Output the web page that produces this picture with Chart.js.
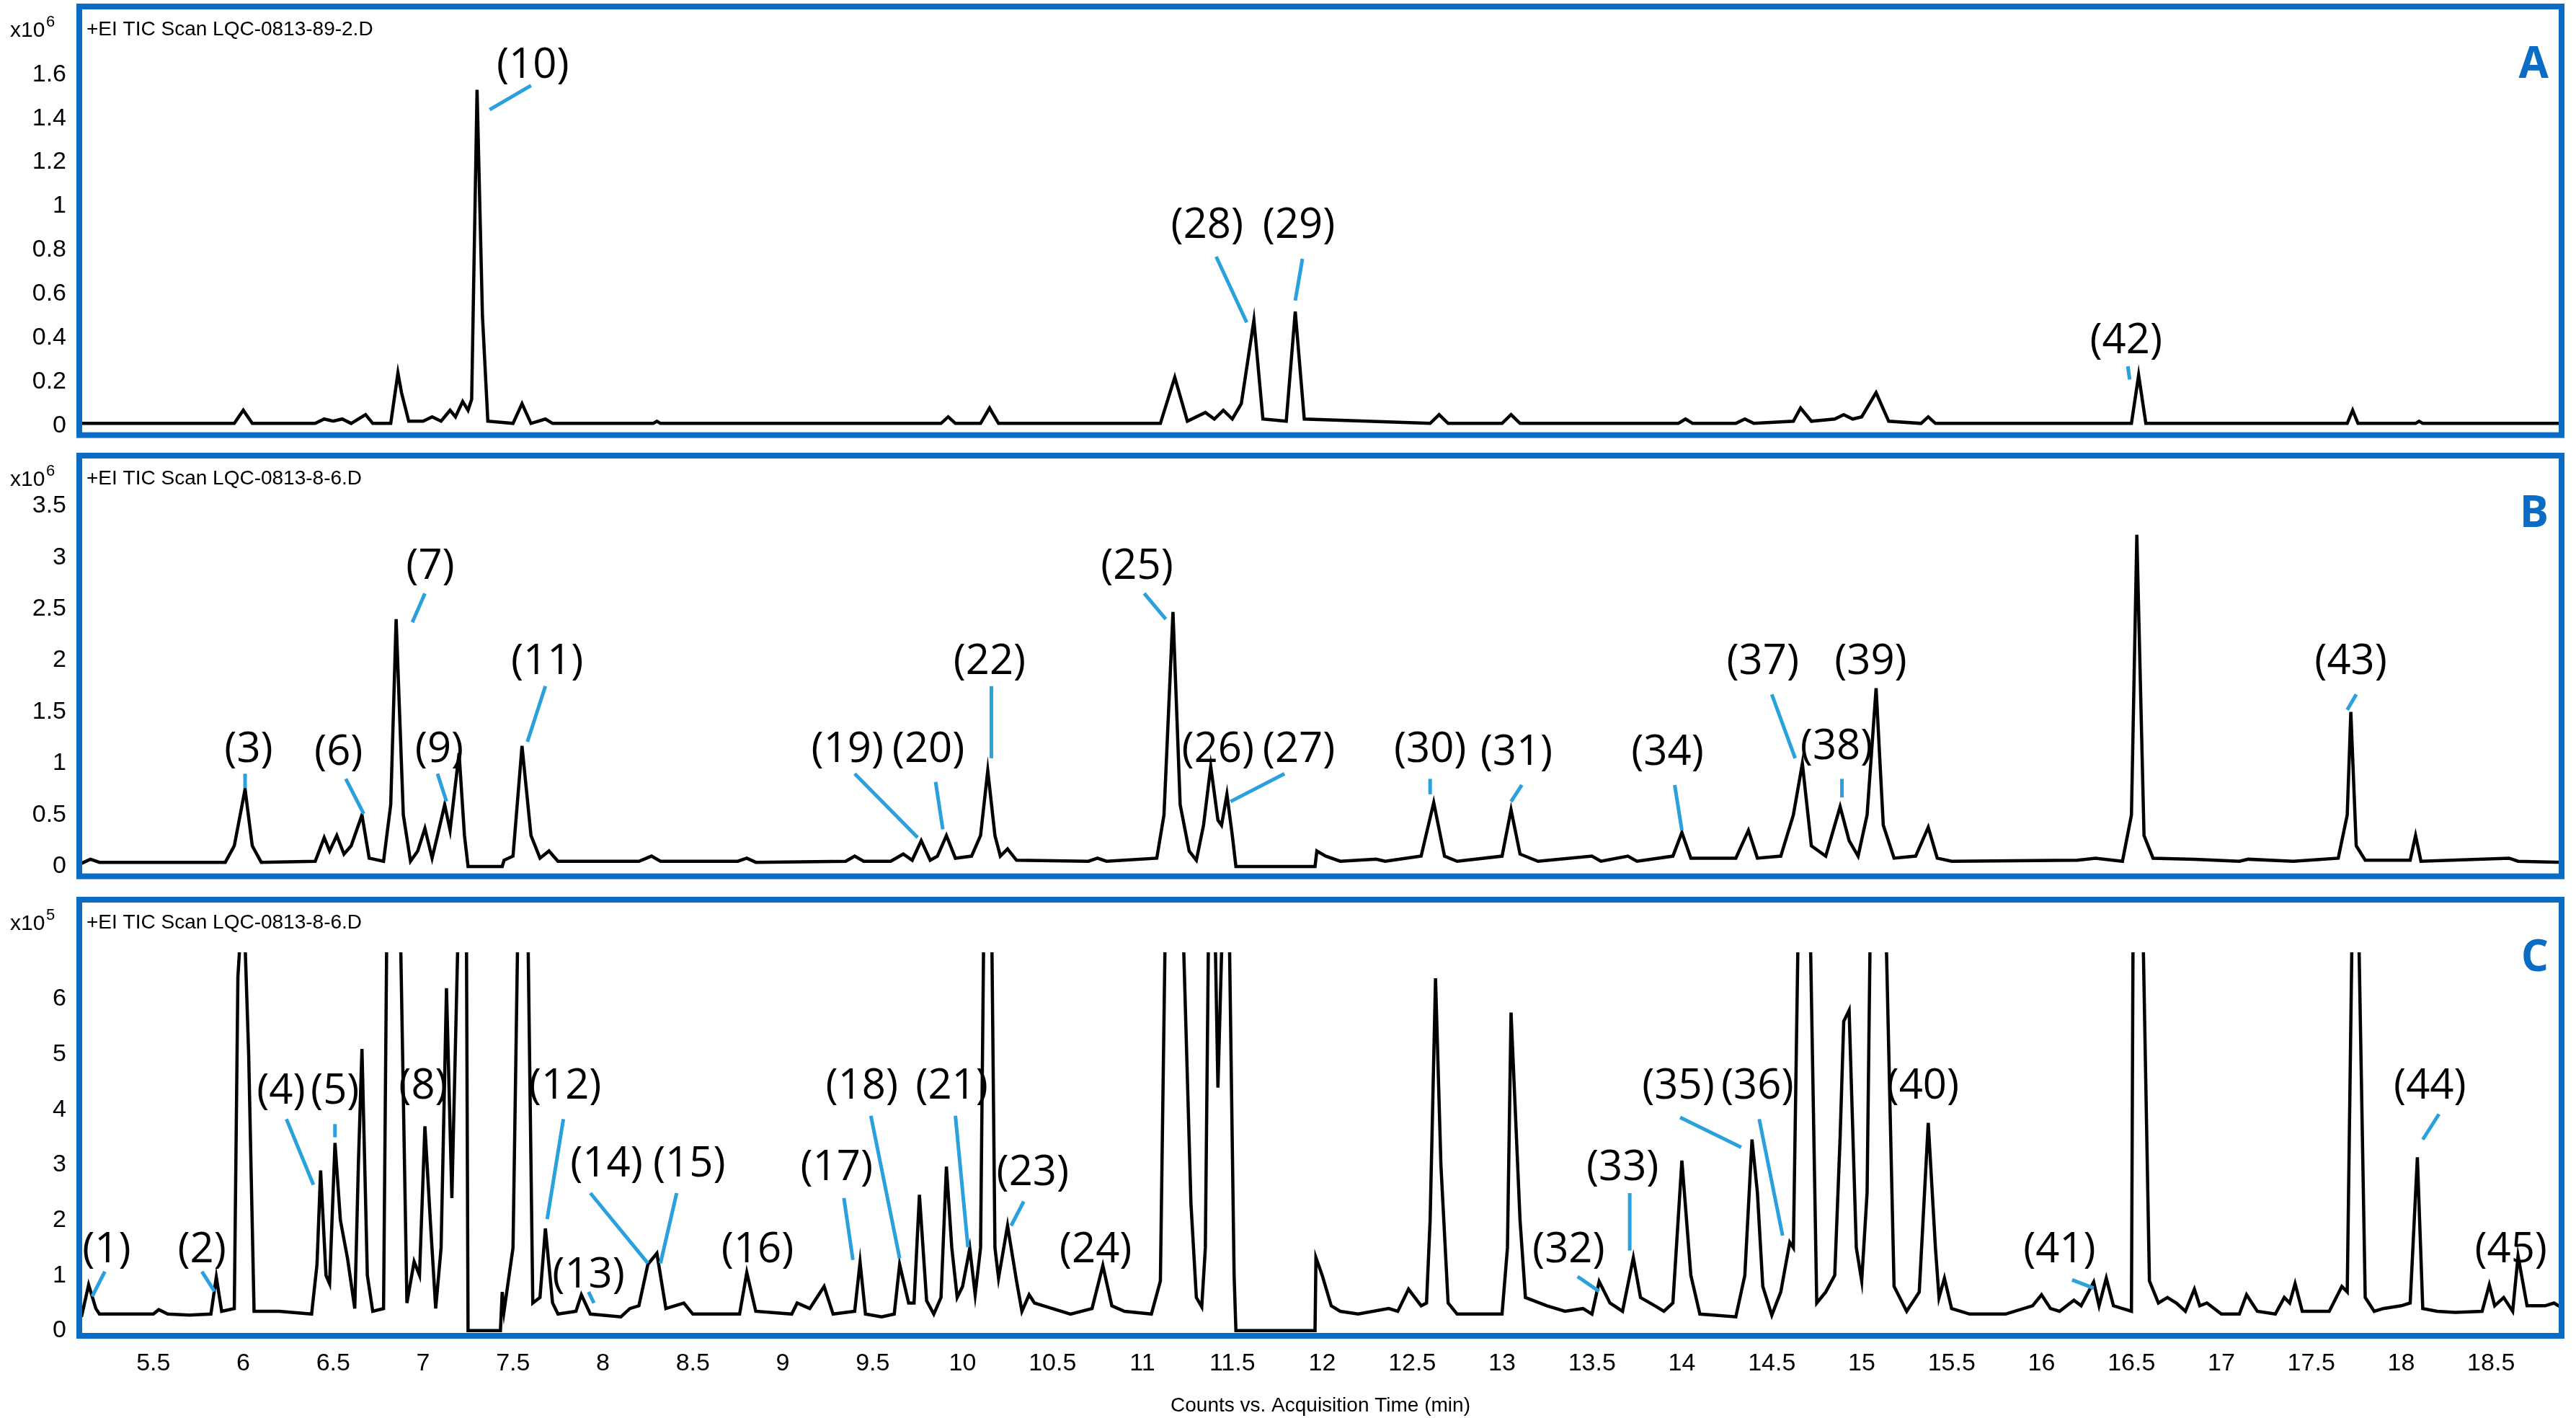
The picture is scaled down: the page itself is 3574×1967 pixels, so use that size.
<!DOCTYPE html>
<html>
<head>
<meta charset="utf-8">
<script src="https://cdn.jsdelivr.net/npm/chart.js@4/dist/chart.umd.min.js"></script>
<style>
body { margin:0; background:#fff; width:3574px; height:1967px; overflow:hidden; position:relative; }
canvas { position:absolute; left:0; }
</style>
</head>
<body>
<canvas id="chartA"></canvas>
<canvas id="chartB"></canvas>
<canvas id="chartC"></canvas>
<script>
// retention time (min) , abundance  -- A in x10^6, B in x10^6, C in x10^5 (8 = off scale)
var traceA = [[5.1,0.01],[5.95,0.01],[6.0,0.07],[6.05,0.01],[6.4,0.01],[6.45,0.03],[6.5,0.02],[6.55,0.03],[6.6,0.01],
  [6.68,0.05],[6.72,0.01],[6.82,0.01],[6.86,0.24],[6.88,0.15],[6.92,0.02],[7.0,0.02],[7.05,0.04],[7.1,0.02],[7.15,0.07],
  [7.18,0.04],[7.22,0.11],[7.25,0.07],[7.27,0.12],[7.3,1.53],[7.33,0.5],[7.36,0.02],[7.5,0.01],[7.55,0.1],[7.6,0.01],
  [7.68,0.03],[7.72,0.01],[8.28,0.01],[8.3,0.02],[8.32,0.01],[9.88,0.01],[9.92,0.04],[9.96,0.01],[10.1,0.01],[10.15,0.08],
  [10.2,0.01],[11.1,0.01],[11.18,0.22],[11.25,0.02],[11.35,0.06],[11.4,0.03],[11.45,0.07],[11.5,0.03],[11.55,0.1],
  [11.62,0.48],[11.67,0.03],[11.8,0.02],[11.85,0.52],[11.9,0.03],[12.6,0.01],[12.65,0.05],[12.7,0.01],[13.0,0.01],
  [13.05,0.05],[13.1,0.01],[13.98,0.01],[14.02,0.03],[14.06,0.01],[14.3,0.01],[14.35,0.03],[14.4,0.01],[14.62,0.02],
  [14.66,0.08],[14.72,0.02],[14.85,0.03],[14.9,0.05],[14.95,0.03],[15.0,0.04],[15.08,0.15],[15.15,0.02],[15.33,0.01],
  [15.37,0.04],[15.41,0.01],[16.5,0.01],[16.54,0.23],[16.58,0.01],[17.7,0.01],[17.73,0.07],[17.76,0.01],[18.08,0.01],
  [18.1,0.02],[18.12,0.01],[18.9,0.01]];

var traceB = [[5.1,0.03],[5.15,0.07],[5.2,0.04],[5.9,0.04],[5.95,0.2],[6.01,0.75],[6.05,0.2],[6.1,0.04],[6.4,0.05],
  [6.45,0.28],[6.48,0.15],[6.52,0.3],[6.56,0.12],[6.6,0.2],[6.66,0.5],[6.7,0.08],[6.78,0.05],[6.82,0.6],[6.85,2.4],
  [6.89,0.5],[6.93,0.05],[6.97,0.15],[7.01,0.37],[7.05,0.08],[7.08,0.3],[7.12,0.6],[7.15,0.35],[7.2,1.1],[7.23,0.3],
  [7.25,0],[7.44,0],[7.45,0.06],[7.5,0.1],[7.55,1.17],[7.6,0.3],[7.65,0.08],[7.7,0.15],[7.75,0.05],[8.2,0.05],[8.27,0.1],
  [8.32,0.05],[8.75,0.05],[8.8,0.08],[8.85,0.04],[9.35,0.05],[9.4,0.1],[9.45,0.05],[9.6,0.05],[9.67,0.12],[9.72,0.06],
  [9.77,0.25],[9.82,0.06],[9.86,0.1],[9.91,0.3],[9.96,0.08],[10.05,0.1],[10.1,0.3],[10.14,0.93],[10.18,0.3],[10.21,0.1],
  [10.25,0.17],[10.3,0.06],[10.7,0.05],[10.75,0.08],[10.8,0.05],[11.08,0.08],[11.12,0.5],[11.17,2.47],[11.21,0.6],
  [11.26,0.15],[11.3,0.06],[11.34,0.4],[11.38,0.97],[11.42,0.45],[11.44,0.4],[11.47,0.7],[11.5,0.3],[11.52,0],[11.96,0],
  [11.97,0.15],[12.02,0.1],[12.1,0.05],[12.3,0.07],[12.35,0.05],[12.55,0.1],[12.62,0.62],[12.68,0.1],[12.75,0.05],
  [13.0,0.1],[13.05,0.55],[13.1,0.12],[13.2,0.05],[13.5,0.1],[13.55,0.05],[13.7,0.1],[13.75,0.05],[13.95,0.1],[14.0,0.33],
  [14.05,0.08],[14.3,0.08],[14.37,0.35],[14.42,0.08],[14.55,0.1],[14.62,0.5],[14.67,1.0],[14.72,0.2],[14.8,0.1],
  [14.88,0.58],[14.93,0.25],[14.98,0.1],[15.03,0.5],[15.08,1.73],[15.12,0.4],[15.18,0.08],[15.3,0.1],[15.37,0.38],
  [15.42,0.08],[15.5,0.05],[16.2,0.06],[16.3,0.08],[16.45,0.05],[16.5,0.5],[16.53,3.22],[16.57,0.3],[16.62,0.08],
  [16.85,0.07],[17.1,0.05],[17.15,0.07],[17.4,0.05],[17.65,0.08],[17.7,0.5],[17.72,1.5],[17.75,0.2],[17.8,0.06],
  [18.05,0.06],[18.08,0.3],[18.11,0.05],[18.6,0.08],[18.65,0.05],[18.9,0.04]];

var traceC = [[5.1,0.25],[5.14,0.83],[5.18,0.4],[5.2,0.3],[5.5,0.3],[5.53,0.38],[5.58,0.3],[5.7,0.28],[5.82,0.3],
  [5.85,0.97],[5.88,0.35],[5.95,0.4],[5.97,6.4],[6.0,8],[6.03,5.0],[6.06,0.35],[6.2,0.35],[6.38,0.3],[6.41,1.2],[6.43,2.9],
  [6.46,1.0],[6.48,0.85],[6.51,3.4],[6.54,2.0],[6.58,1.3],[6.62,0.4],[6.64,3.0],[6.66,5.1],[6.69,1.0],[6.72,0.35],
  [6.78,0.4],[6.8,8],[6.87,8],[6.91,0.5],[6.95,1.25],[6.98,1.0],[7.01,3.7],[7.04,2.0],[7.07,0.4],[7.1,1.5],[7.13,6.2],
  [7.16,2.4],[7.2,8],[7.24,8],[7.25,0],[7.43,0],[7.44,0.7],[7.45,0.35],[7.5,1.5],[7.53,8],[7.58,8],[7.61,0.5],[7.65,0.6],
  [7.68,1.85],[7.72,0.5],[7.75,0.3],[7.85,0.35],[7.88,0.65],[7.93,0.3],[8.1,0.25],[8.15,0.4],[8.2,0.45],[8.25,1.2],
  [8.3,1.4],[8.35,0.4],[8.45,0.5],[8.5,0.3],[8.76,0.3],[8.8,1.05],[8.85,0.35],[9.05,0.3],[9.08,0.5],[9.15,0.4],[9.23,0.8],
  [9.28,0.3],[9.4,0.35],[9.43,1.24],[9.46,0.3],[9.55,0.25],[9.62,0.3],[9.65,1.2],[9.7,0.5],[9.73,0.5],[9.76,2.46],
  [9.8,0.54],[9.84,0.3],[9.88,0.6],[9.91,2.97],[9.94,1.5],[9.97,0.6],[10.0,0.8],[10.04,1.49],[10.07,0.65],[10.1,1.5],
  [10.12,8],[10.16,8],[10.18,1.5],[10.2,0.95],[10.25,1.9],[10.3,0.9],[10.33,0.35],[10.37,0.65],[10.4,0.5],[10.45,0.45],
  [10.6,0.3],[10.72,0.4],[10.78,1.18],[10.83,0.45],[10.9,0.35],[11.05,0.3],[11.1,0.9],[11.13,8],[11.22,8],[11.27,2.3],
  [11.3,0.6],[11.33,0.43],[11.35,1.5],[11.37,8],[11.4,8],[11.42,4.4],[11.45,8],[11.48,8],[11.51,1.0],[11.52,0],[11.96,0],
  [11.965,1.32],[12.0,1.0],[12.05,0.45],[12.1,0.35],[12.2,0.3],[12.37,0.4],[12.42,0.35],[12.48,0.75],[12.55,0.45],
  [12.58,0.5],[12.6,2.0],[12.63,6.38],[12.66,3.0],[12.7,0.5],[12.75,0.3],[13.0,0.3],[13.03,1.5],[13.05,5.76],[13.1,2.0],
  [13.13,0.6],[13.25,0.45],[13.35,0.35],[13.45,0.4],[13.5,0.3],[13.54,0.89],[13.6,0.5],[13.67,0.35],[13.73,1.32],
  [13.77,0.6],[13.85,0.45],[13.9,0.35],[13.95,0.5],[14.0,3.08],[14.05,1.0],[14.1,0.3],[14.3,0.25],[14.35,1.0],[14.39,3.46],
  [14.42,2.5],[14.45,0.8],[14.5,0.28],[14.55,0.7],[14.6,1.6],[14.62,1.5],[14.65,8],[14.71,8],[14.75,0.5],[14.8,0.7],
  [14.85,1.0],[14.88,3.5],[14.9,5.6],[14.93,5.8],[14.97,1.5],[15.0,0.9],[15.03,2.5],[15.05,8],[15.13,8],[15.18,0.8],
  [15.25,0.35],[15.32,0.7],[15.37,3.76],[15.41,1.5],[15.43,0.6],[15.46,0.95],[15.5,0.4],[15.6,0.3],[15.8,0.3],[15.95,0.45],
  [16.0,0.65],[16.05,0.4],[16.1,0.35],[16.18,0.55],[16.22,0.45],[16.29,0.88],[16.32,0.45],[16.36,0.95],[16.4,0.45],
  [16.5,0.35],[16.51,8],[16.56,8],[16.6,0.9],[16.65,0.5],[16.7,0.6],[16.75,0.5],[16.8,0.35],[16.85,0.75],[16.88,0.45],
  [16.92,0.5],[17.0,0.3],[17.1,0.3],[17.14,0.65],[17.2,0.35],[17.3,0.3],[17.35,0.6],[17.38,0.5],[17.41,0.85],[17.45,0.35],
  [17.6,0.35],[17.67,0.8],[17.7,0.7],[17.73,8],[17.76,8],[17.8,0.6],[17.85,0.35],[17.9,0.4],[18.0,0.45],[18.05,0.5],
  [18.09,3.14],[18.12,0.4],[18.2,0.35],[18.3,0.33],[18.45,0.35],[18.49,0.83],[18.52,0.45],[18.57,0.6],[18.62,0.35],
  [18.65,1.35],[18.7,0.45],[18.8,0.45],[18.85,0.5],[18.9,0.4]];

var ticksA = [0,0.2,0.4,0.6,0.8,1,1.2,1.4,1.6];
var ticksB = [0,0.5,1,1.5,2,2.5,3,3.5];
var ticksC = [0,1,2,3,4,5,6];
var ticksX = [5.5,6,6.5,7,7.5,8,8.5,9,9.5,10,10.5,11,11.5,12,12.5,13,13.5,14,14.5,15,15.5,16,16.5,17,17.5,18,18.5];

// peak labels: text, text x, text y, leader line x1,y1,x2,y2
var labelsA = [["(10)",7.61,1.64,7.6,1.55,7.37,1.44],["(28)",11.36,0.91,11.41,0.77,11.58,0.47],
  ["(29)",11.87,0.91,11.89,0.76,11.85,0.57],["(42)",16.47,0.385,16.48,0.27,16.49,0.21]];
var labelsB = [["(3)",6.03,1.13,6.01,0.9,6.01,0.76],["(6)",6.53,1.1,6.57,0.85,6.67,0.51],["(7)",7.04,2.91,7.01,2.65,6.94,2.37],
  ["(9)",7.09,1.13,7.08,0.9,7.13,0.63],["(11)",7.69,1.98,7.68,1.75,7.58,1.21],["(19)",9.36,1.13,9.4,0.9,9.75,0.28],
  ["(20)",9.81,1.13,9.85,0.82,9.89,0.36],["(22)",10.15,1.98,10.16,1.75,10.16,1.05],["(25)",10.97,2.91,11.01,2.65,11.13,2.4],
  ["(26)",11.42,1.13],["(27)",11.87,1.13,11.79,0.9,11.49,0.63],["(30)",12.6,1.13,12.6,0.85,12.6,0.7],
  ["(31)",13.08,1.1,13.11,0.79,13.05,0.63],["(34)",13.92,1.1,13.96,0.79,14.0,0.35],["(37)",14.45,1.98,14.5,1.67,14.63,1.05],
  ["(38)",14.86,1.16,14.89,0.85,14.89,0.67],["(39)",15.05,1.98],["(43)",17.72,1.98,17.75,1.67,17.7,1.52]];
var labelsC = [["(1)",5.24,1.45,5.23,1.07,5.16,0.62],["(2)",5.77,1.45,5.77,1.07,5.84,0.71],["(4)",6.21,4.33,6.24,3.83,6.39,2.64],
  ["(5)",6.51,4.33,6.51,3.74,6.51,3.5],["(8)",7.0,4.42],["(12)",7.79,4.42,7.78,3.83,7.69,2.02],
  ["(13)",7.92,1.0,7.95,0.5,7.92,0.7],["(14)",8.02,3.0,7.93,2.49,8.25,1.22],["(15)",8.48,3.0,8.41,2.49,8.32,1.22],
  ["(16)",8.86,1.45],["(17)",9.3,2.94,9.34,2.4,9.39,1.28],["(18)",9.44,4.42,9.49,3.89,9.65,1.31],
  ["(21)",9.94,4.42,9.96,3.89,10.03,1.51],["(23)",10.39,2.85,10.34,2.34,10.27,1.9],["(24)",10.74,1.45],
  ["(32)",13.37,1.45,13.42,0.98,13.54,0.71],["(33)",13.67,2.94,13.71,2.49,13.71,1.45],["(35)",13.98,4.42,13.99,3.86,14.33,3.32],
  ["(36)",14.42,4.42,14.43,3.83,14.56,1.72],["(40)",15.34,4.42],["(41)",16.1,1.45,16.17,0.92,16.29,0.77],
  ["(44)",18.16,4.42,18.21,3.92,18.12,3.46],["(45)",18.61,1.45]];

var tickFont = { family: "'Liberation Sans Narrow', 'Liberation Sans', Arial", size: 34 };

var panelPlugin = {
  id: 'panel',
  afterDraw: function(chart) {
    var o = chart.options.plugins.panel;
    var ctx = chart.ctx, a = chart.chartArea, sx = chart.scales.x, sy = chart.scales.y;
    ctx.save();
    // peak labels
    ctx.font = "58px 'Open Sans', 'Noto Sans', sans-serif";
    ctx.textAlign = 'center'; ctx.textBaseline = 'middle';
    ctx.fillStyle = '#000';
    ctx.strokeStyle = '#2aa0dc'; ctx.lineWidth = 5;
    for (var i=0; i<o.labels.length; i++) {
      var l = o.labels[i];
      ctx.fillText(l[0], sx.getPixelForValue(l[1]), sy.getPixelForValue(l[2]));
      if (l.length > 3) {
        ctx.beginPath();
        ctx.moveTo(sx.getPixelForValue(l[3]), sy.getPixelForValue(l[4]));
        ctx.lineTo(sx.getPixelForValue(l[5]), sy.getPixelForValue(l[6]));
        ctx.stroke();
      }
    }
    // blue frame
    var top = o.boxTop;
    ctx.strokeStyle = '#0a6cc4'; ctx.lineWidth = 8;
    ctx.strokeRect(a.left + 2, top, a.right - a.left - 4, a.bottom - top - 2);
    // titles
    ctx.fillStyle = '#000'; ctx.textAlign = 'left'; ctx.textBaseline = 'middle';
    ctx.font = "28px 'Liberation Sans Narrow', 'Liberation Sans', Arial";
    ctx.fillText(o.title, a.left + 12, top + 32);
    ctx.font = "30px 'Liberation Sans Narrow', 'Liberation Sans', Arial";
    ctx.fillText('x10', 14, top + 34);
    ctx.font = "22px 'Liberation Sans Narrow', 'Liberation Sans', Arial";
    ctx.fillText(o.exp, 64, top + 22);
    ctx.fillStyle = '#0a6cc4'; ctx.textAlign = 'right';
    ctx.font = "bold 60px 'Open Sans', 'Noto Sans', sans-serif";
    ctx.fillText(o.letter, a.right - 20, top + 82);
    ctx.restore();
  }
};

function makePanel(id, canvasTop, height, axisTop, boxTop, boxBottom, trace, yMin, yMax, ticks, labels, title, exp, letter, showX) {
  var cv = document.getElementById(id);
  cv.width = 3574; cv.height = height;
  cv.style.top = canvasTop + 'px';
  var pts = [];
  for (var i=0; i<trace.length; i++) pts.push({x: trace[i][0], y: trace[i][1]});
  return new Chart(cv, {
    type: 'line',
    data: { datasets: [{ data: pts, borderColor: '#000', borderWidth: 4.5, pointRadius: 0, tension: 0, fill: false }] },
    plugins: [panelPlugin],
    options: {
      responsive: false, animation: false, devicePixelRatio: 1,
      layout: { padding: { top: axisTop, right: 18, left: 0, bottom: showX ? 0 : height - boxBottom } },
      plugins: { legend: { display: false }, tooltip: { enabled: false },
        panel: { labels: labels, boxTop: boxTop, title: title, exp: exp, letter: letter } },
      scales: {
        x: { type: 'linear', min: 5.08, max: 18.9, display: showX,
          afterBuildTicks: function(s) { s.ticks = ticksX.map(function(v){ return {value: v}; }); },
          afterFit: function(s) { s.height = showX ? 112 : 0; },
          grid: { display: false, drawTicks: true, tickLength: 12, tickColor: '#000', tickWidth: 3 },
          border: { display: true, color: '#000', width: 3 },
          ticks: { color: '#000', font: tickFont, padding: 4, maxRotation: 0, callback: function(v){ return String(v); } },
          title: { display: true, text: 'Counts vs. Acquisition Time (min)', color: '#000', padding: 0,
            font: { family: "'Liberation Sans Narrow', 'Liberation Sans', Arial", size: 28 } } },
        y: { min: yMin, max: yMax,
          afterBuildTicks: function(s) { s.ticks = ticks.map(function(v){ return {value: v}; }); },
          afterFit: function(s) { s.width = 108; },
          grid: { display: false, drawTicks: true, tickLength: 12, tickColor: '#000', tickWidth: 4 },
          border: { display: true, color: '#000', width: 4 },
          ticks: { color: '#000', font: tickFont, padding: 4, callback: function(v){ return String(v); } } }
      }
    }
  });
}

makePanel('chartA', 0, 630, 79, 9, 623, traceA, -0.05, 1.68, ticksA, labelsA, '+EI TIC Scan LQC-0813-89-2.D', '6', 'A', false);
makePanel('chartB', 620, 622, 46, 12, 617, traceB, -0.11, 3.75, ticksB, labelsB, '+EI TIC Scan LQC-0813-8-6.D', '6', 'B', false);
makePanel('chartC', 1242, 725, 79, 6, 613, traceC, -0.12, 6.85, ticksC, labelsC, '+EI TIC Scan LQC-0813-8-6.D', '5', 'C', true);
</script>
</body>
</html>
